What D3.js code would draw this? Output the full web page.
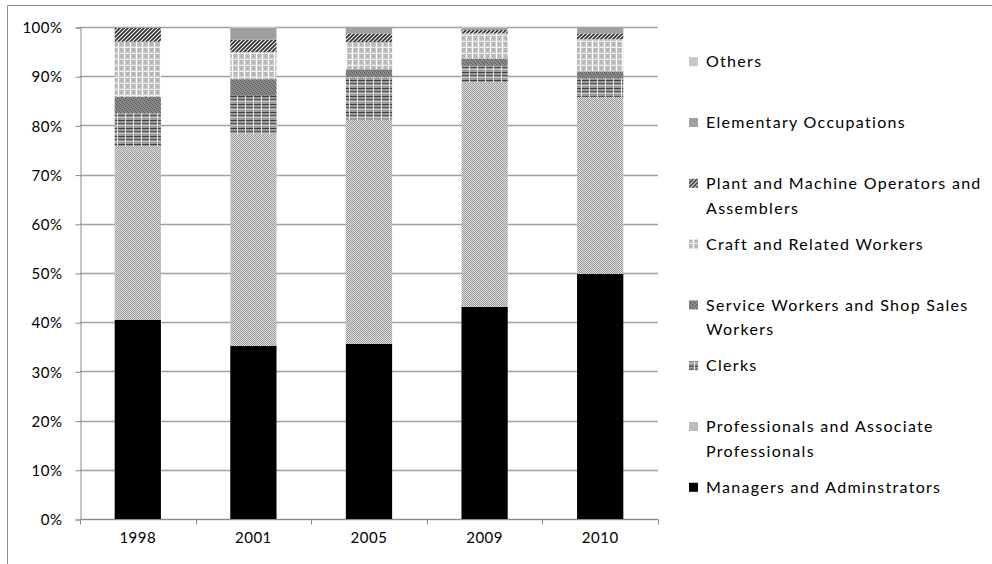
<!DOCTYPE html>
<html>
<head>
<meta charset="utf-8">
<script src="https://cdn.jsdelivr.net/npm/d3@7"></script>
<style>
  body { margin: 0; background: #fff; }
  text { font-family: Lato, "Open Sans", sans-serif; fill: #000; }
</style>
</head>
<body>
<svg class="chartSVG" width="992" height="564"></svg>
<script>
// values in percent
const years = ['1998', '2001', '2005', '2009', '2010'];
const managers = [40.5, 35.2, 35.6, 43.1, 49.8];
const professionals = [35.3, 43.0, 45.5, 45.7, 36.0];
const clerks = [6.7, 7.8, 8.7, 3.3, 3.8];
const service = [3.3, 3.4, 1.6, 1.5, 1.4];
const craft = [11.2, 5.5, 5.5, 5.1, 6.5];
const plant = [2.8, 2.5, 1.8, 0.7, 1.2];
const elementary = [0.2, 2.4, 1.3, 0.4, 1.3];
const others = [0, 0.2, 0, 0.2, 0];

const yTicks = [0, 10, 20, 30, 40, 50, 60, 70, 80, 90, 100];

// bottom of the stack first
const seriesKeys = ['managers', 'professionals', 'clerks', 'service', 'craft', 'plant', 'elementary', 'others'];
const seriesNames = {
  managers: ['Managers and Adminstrators'],
  professionals: ['Professionals and Associate', 'Professionals'],
  clerks: ['Clerks'],
  service: ['Service Workers and Shop Sales', 'Workers'],
  craft: ['Craft and Related Workers'],
  plant: ['Plant and Machine Operators and', 'Assemblers'],
  elementary: ['Elementary Occupations'],
  others: ['Others']
};
const seriesValues = { managers, professionals, clerks, service, craft, plant, elementary, others };

const rows = years.map((y, i) => {
  let r = { year: y };
  seriesKeys.forEach(k => { r[k] = seriesValues[k][i]; });
  return r;
});

const svg = d3.select('.chartSVG');
const margin = { l: 80, r: 334, t: 27, b: 45 };
const width = 992, height = 564;

const xScale = d3.scaleBand().domain(years).range([margin.l, width - margin.r]).paddingInner(0.6).paddingOuter(0.3);
const yScale = d3.scaleLinear().domain([0, 100]).range([height - margin.b, margin.t]);

// fill patterns, mimicking the old office hatch fills
const defs = svg.append('defs');
function pattern(id, w, h, draw) {
  const p = defs.append('pattern').attr('id', id).attr('patternUnits', 'userSpaceOnUse')
    .attr('width', w).attr('height', h);
  draw(p);
}
pattern('pProf', 4, 4, p => {
  p.append('rect').attr('width', 4).attr('height', 4).attr('fill', '#dcdcdc');
  p.append('path').attr('d', 'M0,0h1v1h-1zM2,0h1v1h-1zM1,1h1v1h-1zM3,1h1v1h-1zM0,2h1v1h-1zM2,2h1v1h-1zM1,3h1v1h-1zM3,3h1v1h-1z').attr('fill', '#9c9c9c');
});
pattern('pClerks', 8, 8, p => {
  p.append('rect').attr('width', 8).attr('height', 8).attr('fill', '#9a9a9a');
  p.append('rect').attr('y', 0).attr('width', 8).attr('height', 1).attr('fill', '#3e3e3e');
  p.append('rect').attr('y', 3).attr('width', 8).attr('height', 1).attr('fill', '#555');
  p.append('rect').attr('y', 5).attr('width', 8).attr('height', 1).attr('fill', '#c4c4c4');
  p.append('rect').attr('x', 5).attr('width', 1).attr('height', 8).attr('fill', '#e6e6e6');
});
pattern('pService', 4, 4, p => {
  p.append('rect').attr('width', 4).attr('height', 4).attr('fill', '#8a8a8a');
  p.append('path').attr('d', 'M0,0h1v1h-1zM2,1h1v1h-1zM1,2h1v1h-1zM3,3h1v1h-1z').attr('fill', '#5a5a5a');
});
pattern('pCraft', 6, 6, p => {
  p.append('rect').attr('width', 6).attr('height', 6).attr('fill', '#c8c8c8');
  p.append('path').attr('d', 'M0,0h1v1h-1zM2,0h1v1h-1zM1,1h1v1h-1zM0,2h1v1h-1zM2,2h1v1h-1zM1,3h1v1h-1zM4,4h1v1h-1z').attr('fill', '#a8a8a8');
  p.append('rect').attr('x', 4).attr('width', 1).attr('height', 6).attr('fill', '#fff');
  p.append('rect').attr('y', 5).attr('width', 6).attr('height', 1).attr('fill', '#f0f0f0');
});
pattern('pPlant', 4, 4, p => {
  p.append('rect').attr('width', 4).attr('height', 4).attr('fill', '#fff');
  p.append('path').attr('d', 'M-1,1L1,-1M0,4L4,0M3,5L5,3').attr('stroke', '#333').attr('stroke-width', 1.8);
});

const fills = {
  managers: '#000',
  professionals: 'url(#pProf)',
  clerks: 'url(#pClerks)',
  service: 'url(#pService)',
  craft: 'url(#pCraft)',
  plant: 'url(#pPlant)',
  elementary: '#a0a0a0',
  others: '#c8c8c8'
};

// outer chart frame (only left and top edges are visible)
svg.append('path').attr('d', `M7.5,${height}V5.5H${width}`).attr('fill', 'none').attr('stroke', '#8c8c8c');

// gridlines
svg.append('g').selectAll('line').data(yTicks).join('line')
  .attr('x1', margin.l).attr('x2', width - margin.r)
  .attr('y1', d => Math.round(yScale(d)) + 0.5).attr('y2', d => Math.round(yScale(d)) + 0.5)
  .attr('stroke', '#a0a0a0').attr('stroke-width', 1.3);

// y axis
const yAxis = svg.append('g').attr('transform', `translate(${margin.l + 0.5},0.5)`)
  .call(d3.axisLeft(yScale).tickValues(yTicks).tickFormat(d => d + '%').tickSize(5).tickPadding(13));
yAxis.select('.domain').attr('stroke', '#8c8c8c');
yAxis.selectAll('.tick line').attr('stroke', '#8c8c8c');
yAxis.selectAll('.tick text').attr('font-size', 15).attr('font-family', 'Lato, sans-serif')
  .attr('letter-spacing', '0.5px').attr('dy', '0.34em');

// stacked bars
const stacked = d3.stack().keys(seriesKeys)(rows);
console.log('stacked: ', stacked);
svg.append('g').selectAll('g').data(stacked).join('g')
  .attr('fill', d => fills[d.key])
  .selectAll('rect').data(d => d).join('rect')
  .attr('x', d => xScale(d.data.year))
  .attr('width', xScale.bandwidth())
  .attr('y', d => yScale(d[1]))
  .attr('height', d => yScale(d[0]) - yScale(d[1]));

// x axis with ticks at category boundaries
const y0 = Math.round(yScale(0)) + 0.5;
const step = xScale.step();
const bounds = d3.range(years.length + 1).map(i => margin.l + i * step);
svg.append('line').attr('x1', margin.l).attr('x2', width - margin.r).attr('y1', y0).attr('y2', y0)
  .attr('stroke', '#8c8c8c');
svg.append('g').selectAll('line').data(bounds).join('line')
  .attr('x1', d => Math.round(d) + 0.5).attr('x2', d => Math.round(d) + 0.5)
  .attr('y1', y0).attr('y2', y0 + 5).attr('stroke', '#8c8c8c');
svg.append('g').selectAll('text').data(years).join('text')
  .attr('x', d => xScale(d) + xScale.bandwidth() / 2)
  .attr('y', y0 + 18)
  .attr('dy', '0.34em')
  .attr('text-anchor', 'middle')
  .attr('font-size', 15)
  .attr('letter-spacing', '0.5px')
  .text(d => d);

// legend, top item is the top of the stack
const legendKeys = seriesKeys.slice().reverse();
const legend = svg.append('g').selectAll('g').data(legendKeys).join('g')
  .attr('transform', (d, i) => `translate(689,${61.7 + i * 60.8})`);
legend.append('rect').attr('x', 0).attr('y', -4.5).attr('width', 9).attr('height', 9)
  .attr('fill', d => fills[d]);
legend.append('text')
  .attr('x', 17)
  .attr('font-size', 16)
  .attr('letter-spacing', '1.3px')
  .selectAll('tspan').data(d => seriesNames[d]).join('tspan')
  .attr('x', 17)
  .attr('y', (d, i) => i * 24.5)
  .attr('dy', '0.36em')
  .text(d => d);
</script>
</body>
</html>
